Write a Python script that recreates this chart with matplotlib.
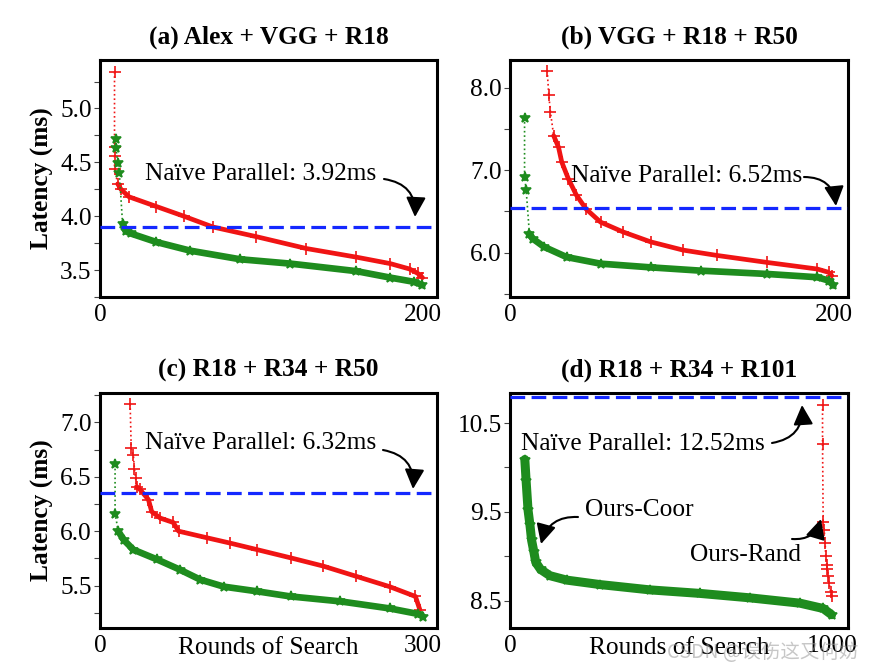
import matplotlib
matplotlib.use("Agg")
import matplotlib.pyplot as plt
from matplotlib.patches import FancyArrowPatch
from matplotlib.transforms import IdentityTransform
from matplotlib.ticker import MultipleLocator, FixedLocator

# ---- data (rounds of search vs. latency in ms) ----
titles = ["(a) Alex + VGG + R18", "(b) VGG + R18 + R50",
          "(c) R18 + R34 + R50", "(d) R18 + R34 + R101"]
naive_labels = [3.92, 6.52, 6.32, 12.52]       # values printed in the text
naive_drawn = [3.90, 6.54, 6.35, 10.80]        # where the dashed line sits
x_max_tick = [200, 200, 300, 1000]

# (a)
a_red_x = [9, 9, 9, 9, 11, 13, 18, 35, 52, 70, 97, 128, 159, 180, 192, 197, 200]
a_red_y = [5.34, 4.64, 4.56, 4.44, 4.30, 4.25, 4.18, 4.09, 4.00, 3.90, 3.81,
           3.70, 3.62, 3.56, 3.51, 3.47, 3.43]
a_red_head = 5
a_green_x = [10, 10, 11, 12, 14, 16, 19, 35, 56, 87, 118, 159, 180, 195, 200]
a_green_y = [4.72, 4.63, 4.49, 4.40, 3.93, 3.86, 3.84, 3.76, 3.68, 3.60,
             3.56, 3.49, 3.43, 3.39, 3.36]
a_green_head = 5

# (b)
b_red_x = [23, 24, 25, 27, 30, 32, 36, 41, 47, 56, 70, 87, 107, 128, 159,
           190, 197, 199]
b_red_y = [8.21, 7.91, 7.71, 7.42, 7.28, 7.10, 6.90, 6.70, 6.53, 6.37, 6.25,
           6.13, 6.03, 5.965, 5.88, 5.80, 5.76, 5.72]
b_red_head = 4
b_green_x = [9, 9, 10, 12, 14, 21, 35, 56, 87, 118, 159, 190, 197, 200]
b_green_y = [7.64, 6.92, 6.76, 6.23, 6.17, 6.07, 5.945, 5.865, 5.82, 5.78,
             5.74, 5.70, 5.66, 5.60]
b_green_head = 4

# (c)
c_red_x = [28, 29, 31, 32, 33, 34, 37, 45, 48, 56, 68, 73, 99, 121, 146, 177,
           207, 238, 269, 293, 297]
c_red_y = [7.17, 6.76, 6.70, 6.57, 6.49, 6.41, 6.385, 6.29, 6.18, 6.12, 6.08,
           6.00, 5.94, 5.89, 5.83, 5.755, 5.68, 5.585, 5.49, 5.40, 5.28]
c_red_head = 6
c_green_x = [14, 14, 17, 22, 31, 53, 74, 93, 115, 146, 177, 223, 269, 295, 300]
c_green_y = [6.615, 6.16, 6.00, 5.92, 5.83, 5.74, 5.647, 5.555, 5.49, 5.447,
             5.40, 5.355, 5.29, 5.24, 5.215]
c_green_head = 3

# (d)
d_red_x = [970, 970, 972, 975, 978, 980, 983, 985, 988, 990, 995, 998]
d_red_y = [10.71, 10.26, 9.39, 9.30, 9.15, 9.00, 8.90, 8.85, 8.78, 8.70,
           8.60, 8.55]
d_red_head = 12
d_green_x = [46, 50, 56, 62, 67, 74, 80, 95, 124, 176, 279, 434, 590, 745,
             900, 972, 998]
d_green_y = [10.09, 9.85, 9.52, 9.35, 9.18, 9.05, 8.93, 8.85, 8.78, 8.73,
             8.68, 8.62, 8.58, 8.53, 8.47, 8.41, 8.34]
d_green_head = 1

RED = "#f01414"
GREEN = "#1e8c1e"
BLUE = "#1428ff"
W, H = 876, 672
FS = 18.3

plt.rcParams["font.family"] = ["Liberation Serif", "DejaVu Serif"]

fig = plt.figure(figsize=(W / 100, H / 100), dpi=100)
PX = IdentityTransform()


def box(left, top, right, bottom):
    """Axes rectangle from pixel edges (top-left origin)."""
    return [left / W, 1 - bottom / H, (right - left) / W, (bottom - top) / H]


def fp(x, y):
    """Figure-pixel point from top-left pixel coords."""
    return (x, H - y)


axes = [
    fig.add_axes(box(100, 60, 437, 297)),
    fig.add_axes(box(510, 60, 848, 297)),
    fig.add_axes(box(100, 393, 437, 628)),
    fig.add_axes(box(510, 393, 848, 628)),
]

xlims = [(0, 209), (0, 209), (0, 313), (0, 1049)]
ylims = [(3.25, 5.45), (5.46, 8.34), (5.11, 7.27), (8.19, 10.84)]
ymajor = [(0.5, 0.0), (1.0, 0.0), (0.5, 0.0), (1.0, 0.5)]
band_lw = [(3.4, 4.8), (3.4, 4.8), (3.4, 4.8), (3.4, 6.5)]

series = [
    [(a_red_x, a_red_y, a_red_head, RED, "+"),
     (a_green_x, a_green_y, a_green_head, GREEN, "*")],
    [(b_red_x, b_red_y, b_red_head, RED, "+"),
     (b_green_x, b_green_y, b_green_head, GREEN, "*")],
    [(c_red_x, c_red_y, c_red_head, RED, "+"),
     (c_green_x, c_green_y, c_green_head, GREEN, "*")],
    [(d_red_x, d_red_y, d_red_head, RED, "+"),
     (d_green_x, d_green_y, d_green_head, GREEN, "*")],
]


def draw_series(ax, x, y, head, color, marker, lw):
    # sparse early jumps: thin dotted line with markers
    ax.plot(x, y, color=color, ls=":", lw=1.2, marker=marker,
            ms=8 if marker == "+" else 7, mew=1.2, zorder=3)
    # dense part of the search: markers overlap into a thick band
    if head - 1 < len(x) - 1:
        ax.plot(x[head - 1:], y[head - 1:], color=color, lw=lw,
                solid_capstyle="round", solid_joinstyle="round", zorder=3)


for i, ax in enumerate(axes):
    for (x, y, head, color, marker), lw in zip(series[i], band_lw[i]):
        draw_series(ax, x, y, head, color, marker, lw)
    ax.axhline(naive_drawn[i], color=BLUE, lw=2.3, ls=(0, (4.6, 2.0)), zorder=4)

    ax.set_xlim(*xlims[i])
    ax.set_ylim(*ylims[i])
    step, off = ymajor[i]
    ax.xaxis.set_major_locator(FixedLocator([0, x_max_tick[i]]))
    ax.yaxis.set_major_locator(MultipleLocator(step, offset=off))
    ax.yaxis.set_minor_locator(MultipleLocator(step / 2, offset=off))
    ax.yaxis.set_major_formatter("{x:.1f}")
    ax.tick_params(axis="x", length=0, labelsize=FS, pad=5)
    ax.tick_params(axis="y", which="both", direction="out", length=4,
                   width=0.8, color="#444444", labelsize=FS, pad=2)
    for s in ax.spines.values():
        s.set_linewidth(2.2)
    ax.set_title(titles[i], fontsize=FS, fontweight="bold", pad=12)

for ax in (axes[0], axes[2]):
    ax.set_ylabel("Latency (ms)", fontsize=FS, fontweight="bold", labelpad=4)
for ax in (axes[2], axes[3]):
    ax.set_xlabel("Rounds of Search", fontsize=FS)
    ax.xaxis.set_label_coords(0.5, -0.04, transform=ax.transAxes)
    ax.xaxis.label.set_verticalalignment("top")

# ---- annotations (placed in figure pixels) ----
arrow = "-|>,head_length=0.6,head_width=0.3"


def curved_arrow(start, tip, rad):
    fig.add_artist(FancyArrowPatch(fp(*start), fp(*tip), transform=PX,
                                   arrowstyle=arrow, color="black", lw=1.5,
                                   mutation_scale=20, shrinkA=0, shrinkB=0,
                                   connectionstyle=f"arc3,rad={rad}",
                                   zorder=10))


def label(pos, text):
    fig.text(*fp(*pos), text, transform=PX, fontsize=FS, va="center",
             ha="left", zorder=10)


label((145, 174), f"Naïve Parallel: {naive_labels[0]:.2f}ms")
curved_arrow((384, 179), (415, 217), -0.45)
label((571, 176), f"Naïve Parallel: {naive_labels[1]:.2f}ms")
curved_arrow((804, 177), (836, 206), -0.45)
label((145, 443), f"Naïve Parallel: {naive_labels[2]:.2f}ms")
curved_arrow((383, 450), (413, 489), -0.45)
label((521, 444), f"Naïve Parallel: {naive_labels[3]:.2f}ms")
curved_arrow((772, 443), (802, 405), 0.45)

label((585, 510), "Ours-Coor")
curved_arrow((578, 517), (541, 544), 0.4)
label((690, 555), "Ours-Rand")
curved_arrow((792, 539), (821, 519), 0.4)

# site watermark
fig.text(667 / W, 1 - 652 / H, "CSDN @误伤这又何妨", fontsize=14,
         color="#9a9a9a", alpha=0.55, va="center", ha="left",
         family=["Noto Sans CJK SC", "DejaVu Sans"])

fig.savefig("out.png", dpi=100)
